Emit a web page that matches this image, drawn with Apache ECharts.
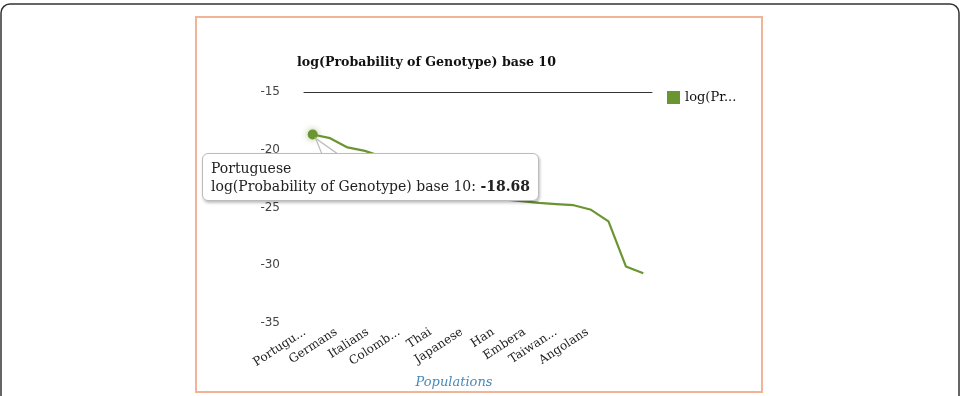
<!DOCTYPE html>
<html>
<head>
<meta charset="utf-8">
<script src="https://cdn.jsdelivr.net/npm/echarts@6/dist/echarts.min.js"></script>
<style>
  html, body { margin: 0; padding: 0; background: #fff; }
  #main { width: 963px; height: 396px; }
</style>
</head>
<body>
<div id="main"></div>
<script>
var seriesName = 'log(Probability of Genotype) base 10';
var axisName = 'Populations';
// only every other population is labelled on the axis
var categories = ['Portuguese', 'Spanish', 'Germans', 'Brazilians', 'Italians', 'Argentinians',
  'Colombians', 'Mexicans', 'Thai', 'Koreans', 'Japanese', 'Chinese', 'Han', 'Uygur',
  'Embera', 'Wayuu', 'Taiwanese', 'Malays', 'Angolans', 'Mozambicans'];
var values = [-18.68, -19.0, -19.8, -20.1, -20.6, -21.2, -21.8, -22.4, -23.0, -23.5,
  -24.0, -24.3, -24.45, -24.6, -24.7, -24.8, -25.2, -26.2, -30.1, -30.7];
var yMin = -35, yMax = -15, yStep = 5;
var tipIndex = 0;

window.onload = function () {
  var myChart = echarts.init(document.getElementById('main'));
  var green = '#6a9530';
  var serif = '"DejaVu Serif", serif';

  var lineData = values.map(function (v, i) {
    if (i === tipIndex) {
      return { value: v, symbol: 'circle', symbolSize: 10,
        itemStyle: { color: green, shadowBlur: 6, shadowColor: 'rgba(106,149,48,0.6)' } };
    }
    return v;
  });

  option = {
    animation: false,
    title: {
      text: seriesName,
      left: 292, top: 51,
      textStyle: { fontFamily: serif, fontSize: 12.6, fontWeight: 'bold', color: '#111' }
    },
    legend: {
      data: [seriesName],
      left: 667, top: 91, padding: 0,
      icon: 'rect', itemWidth: 13, itemHeight: 13, itemGap: 4,
      textStyle: { fontFamily: serif, fontSize: 13, color: '#111',
        width: 56, overflow: 'truncate', ellipsis: '...' }
    },
    tooltip: {
      trigger: 'item',
      triggerOn: 'none',
      alwaysShowContent: true,
      position: [202, 153],
      backgroundColor: '#fff',
      borderColor: '#bbb',
      borderWidth: 1.5,
      borderRadius: 6,
      padding: [5, 8],
      textStyle: { fontFamily: serif, fontSize: 14, color: '#222' },
      extraCssText: 'box-shadow: 1px 2px 3px rgba(0,0,0,0.25); line-height: 18px;',
      formatter: function (p) {
        return p.name + '<br/>' + p.seriesName + ': <b>' + p.value + '</b>';
      }
    },
    grid: [
      { left: 304, right: 311, top: 92, bottom: 73 },
      { left: 297, right: 352, top: 92, bottom: 73 }
    ],
    xAxis: [
      {
        type: 'category', gridIndex: 0, position: 'top',
        data: categories,
        axisLine: { show: true, lineStyle: { color: '#333', width: 1 } },
        axisTick: { show: false },
        axisLabel: { show: false },
        splitLine: { show: false }
      },
      {
        type: 'category', gridIndex: 1, position: 'bottom',
        data: categories,
        axisLine: { show: false },
        axisTick: { show: false },
        axisLabel: {
          interval: 1, rotate: 33, margin: 8,
          fontFamily: serif, fontSize: 12, color: '#222',
          width: 62, overflow: 'truncate', ellipsis: '...'
        },
        name: axisName,
        nameLocation: 'middle',
        nameGap: 53,
        nameTextStyle: { fontFamily: serif, fontSize: 13, fontStyle: 'italic', color: '#4a8ab8' }
      }
    ],
    yAxis: [
      {
        type: 'value', gridIndex: 0,
        min: yMin, max: yMax, interval: yStep,
        axisLine: { show: false },
        axisTick: { show: false },
        splitLine: { show: false },
        axisLabel: { margin: 24, fontFamily: '"DejaVu Sans", sans-serif', fontSize: 12, color: '#444' }
      },
      {
        type: 'value', gridIndex: 1, show: false,
        min: yMin, max: yMax
      }
    ],
    series: [
      {
        name: seriesName,
        type: 'line',
        xAxisIndex: 0, yAxisIndex: 0,
        data: lineData,
        symbol: 'none',
        showSymbol: true,
        color: green,
        lineStyle: { color: green, width: 2.2 },
        emphasis: { disabled: true }
      }
    ]
  };

  myChart.setOption(option);

  // tooltip tail and the two frames around the picture
  var pt = myChart.convertToPixel({ xAxisIndex: 0, yAxisIndex: 0 }, [tipIndex, values[tipIndex]]);
  myChart.setOption({
    graphic: [
      { type: 'rect', z: -10, shape: { x: 1, y: 4, width: 958, height: 430, r: 9 },
        style: { fill: 'none', stroke: '#333', lineWidth: 1.5 } },
      { type: 'rect', z: -10, shape: { x: 196, y: 17, width: 566, height: 375 },
        style: { fill: 'none', stroke: '#f2b497', lineWidth: 2 } },
      { type: 'polygon', z: 100,
        shape: { points: [[pt[0] + 3, pt[1] + 4], [pt[0] + 10, 156], [pt[0] + 28, 156]] },
        style: { fill: '#fff', stroke: '#bbb', lineWidth: 1.2 } }
    ]
  });

  myChart.dispatchAction({ type: 'showTip', seriesIndex: 0, dataIndex: tipIndex });
};
</script>
</body>
</html>
